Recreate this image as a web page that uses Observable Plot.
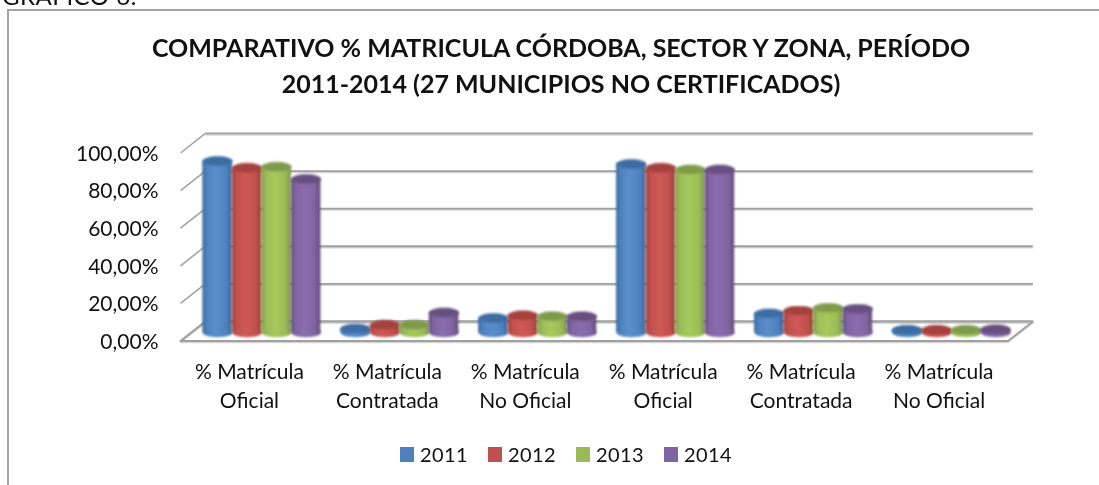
<!DOCTYPE html>
<html><head><meta charset="utf-8">
<script src="https://cdn.jsdelivr.net/npm/d3@7"></script>
<script src="https://cdn.jsdelivr.net/npm/@observablehq/plot@0.6"></script>
<style>
html,body{margin:0;padding:0;background:#fff;overflow:hidden}
#page{position:relative;width:1099px;height:485px;overflow:hidden;font-family:Lato,sans-serif;color:#111}
#page svg{position:absolute;left:0;top:0;background:transparent}
#heading{position:absolute;left:0;top:-19px;font-size:24px;padding-left:2px;filter:blur(.3px);letter-spacing:.5px}
#frame{position:absolute;left:7px;top:9px;right:-2px;bottom:-2px;border-left:2px solid #a3a3a3;border-top:2px solid #a3a3a3}
#title{position:absolute;left:0;width:1122px;top:29px;text-align:center;font-weight:700;font-size:25px;line-height:36px;filter:blur(.3px)}
#legend{position:absolute;left:400px;top:441px;display:flex;align-items:center;font-size:20px;line-height:26px;filter:blur(.3px);letter-spacing:.4px}
#legend i{display:inline-block;width:14px;height:15px;margin-right:6px}
#legend span{margin-right:20px}
</style></head>
<body><div id="page">
<div id="heading">GRÁFICO 6:</div>
<div id="frame"></div>
<div id="chart"></div>
<div id="title">COMPARATIVO % MATRICULA CÓRDOBA, SECTOR Y ZONA, PERÍODO<br>2011-2014 (27 MUNICIPIOS NO CERTIFICADOS)</div>
<div id="legend"></div>
</div>
<script>
const categories = ["% Matrícula\nOficial","% Matrícula\nContratada","% Matrícula\nNo Oficial","% Matrícula\nOficial","% Matrícula\nContratada","% Matrícula\nNo Oficial"];
const years = ["2011","2012","2013","2014"];
const v2011 = [90.5,1.5,7,89,9.5,0.8];
const v2012 = [87,3.5,8.5,87,11,0.8];
const v2013 = [87.5,3.5,8,86,12.5,0.8];
const v2014 = [81,10,8,86,12,1];
const series = [v2011,v2012,v2013,v2014];
const yTicks = [0,20,40,60,80,100];
const edge = ["#34689f","#9c3b39","#7a963f","#5f4878"];
const mid  = ["#4f81bd","#c0504d","#9bbb59","#8064a2"];
const light= ["#5a8ecc","#cf5955","#a6ca5c","#8b6dae"];
const top_ = ["#3c6ca2","#a5413e","#7e9b49","#674f80"];

const depthX = 0.18, depthV = 10.4, barW = 0.214;
const ellipse = {draw(c, size){
  const rx = Math.sqrt(size/Math.PI), ry = rx*0.32, k = 0.5523;
  c.moveTo(-rx,0);
  c.bezierCurveTo(-rx,-k*ry,-k*rx,-ry,0,-ry);
  c.bezierCurveTo(k*rx,-ry,rx,-k*ry,rx,0);
  c.bezierCurveTo(rx,k*ry,k*rx,ry,0,ry);
  c.bezierCurveTo(-k*rx,ry,-rx,k*ry,-rx,0);
  c.closePath();
}};
const defs = () => {
  const d = d3.create("svg:defs");
  mid.forEach((m,j)=>{
    const g = d.append("linearGradient").attr("id","bar"+j);
    [[0,edge[j]],[.14,mid[j]],[.45,light[j]],[.82,mid[j]],[1,edge[j]]].forEach(([o,c])=>g.append("stop").attr("offset",o).attr("stop-color",c));
  });
  return d.node();
};
const floor = [[0,0],[6,0],[6+depthX,depthV],[depthX,depthV],[0,0]];
const blur = "blur(0.8px)";
const barMarks = series.flatMap((vals,j)=>{
  const rows = vals.map((v,i)=>({c:i+0.5+depthX/2+(j-1.5)*barW, base:depthV/2-0.7, top:v+depthV/2}));
  return [
    Plot.rect(rows,{x1:d=>d.c-barW/2,x2:d=>d.c+barW/2,y1:"base",y2:"top",fill:"url(#bar"+j+")",imageFilter:blur}),
    Plot.dot(rows,{x:"c",y:"base",r:14.75,symbol:ellipse,fill:"url(#bar"+j+")",imageFilter:blur}),
    Plot.dot(rows,{x:"c",y:"top",r:14.75,symbol:ellipse,fill:top_[j],imageFilter:blur})
  ];
});
const fmt = d => d3.format(".2f")(d).replace(".",",")+"%";
const plot = Plot.plot({
  width:1099,height:485,marginLeft:180,marginRight:91.5,marginTop:152.5,marginBottom:144.5,
  x:{domain:[0,6],axis:null},
  y:{domain:[0,100]},
  style:{fontFamily:"Lato,sans-serif",fontSize:"21px",color:"#111",background:"transparent",overflow:"visible"},
  marks:[
    defs,
    Plot.line(floor,{x:d=>d[0],y:d=>d[1],stroke:"#d6d6d6",strokeWidth:2,dy:1.2}),
    Plot.link(yTicks,{x1:depthX,x2:6+depthX,y1:d=>d+depthV,y2:d=>d+depthV,stroke:"#d6d6d6",strokeWidth:2,dy:1.2}),
    Plot.link(yTicks,{x1:depthX,x2:6+depthX,y1:d=>d+depthV,y2:d=>d+depthV,stroke:"#a0a0a0",strokeWidth:1.8,imageFilter:"blur(0.3px)"}),
    Plot.link(yTicks,{x1:0,x2:depthX,y1:d=>d,y2:d=>d+depthV,stroke:"#a0a0a0",strokeWidth:1.5,imageFilter:"blur(0.3px)"}),
    Plot.line(floor,{x:d=>d[0],y:d=>d[1],stroke:"#a0a0a0",strokeWidth:1.8,imageFilter:"blur(0.3px)"}),
    ...barMarks,
    Plot.axisY(yTicks,{tickSize:0,tickPadding:22,tickFormat:fmt,label:null,imageFilter:"blur(0.3px)",letterSpacing:"0.5px",dy:1}),
    Plot.text(categories,{x:(d,i)=>i+0.5,y:0,text:d=>d,dy:17,lineAnchor:"top",lineHeight:1.39,imageFilter:"blur(0.3px)",letterSpacing:"1.4px"})
  ]
});
document.getElementById("chart").append(plot);
const lg = d3.select("#legend");
years.forEach((y,j)=>{
  lg.append("i").style("background",mid[j]);
  lg.append("span").text(y);
});
</script>
</body></html>
